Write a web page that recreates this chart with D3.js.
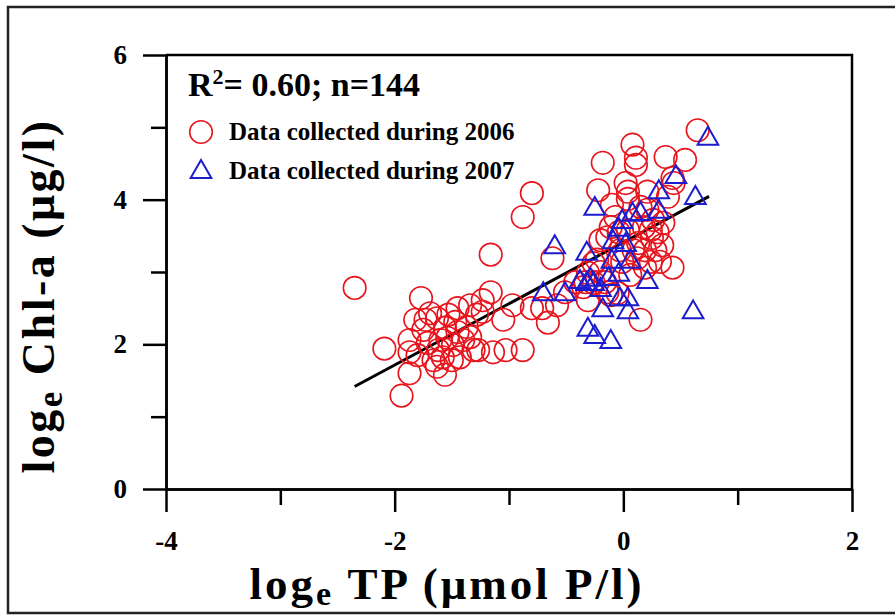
<!DOCTYPE html>
<html>
<head>
<meta charset="utf-8">
<script src="https://cdn.jsdelivr.net/npm/d3@7"></script>
<style>
  body { margin: 0; background: #fff; }
  svg text { font-family: "Liberation Serif", "Times New Roman", serif; font-weight: bold; }
</style>
</head>
<body>
<div id="chart"></div>
<script>
// loge TP vs loge Chl-a
let tp2006 = [-2.35, -2.09, -1.94, -1.87, -1.77, -1.87, -1.87, -1.80, -1.71, -1.69,
    -1.63, -1.53, -1.45, -1.34, -1.56, -1.45, -1.60, -1.49, -1.40, -1.66,
    -1.58, -1.50, -1.63, -1.56, -1.75, -1.43, -1.31, -1.37, -1.28, -1.23,
    -1.16, -1.23, -1.16, -1.05, -0.97, -1.27, -1.14, -1.03, -0.88, -0.80,
    -0.88, -0.62, -0.80, -0.71, -0.66, -0.58, -0.51, -0.42, -0.33, -1.34,
    -1.73, -1.47, -1.62, -1.82, -1.54,
    0.65, 0.08, 0.11, 0.11, -0.18, 0.37, 0.54, 0.43, 0.44, -0.22,
    0.02, 0.04, 0.04, 0.21, 0.39, 0.15, 0.21, 0.26, 0.24, 0.30,
    0.35, -0.07, -0.11, -0.14, -0.20, 0.13, 0.34, 0.04, 0.32, 0.24,
    0.43, 0.15, -0.26, -0.31, -0.20, -0.35, -0.26, -0.11, -0.05, -0.14,
    -0.23, 0.12, -0.04, 0.18, 0.25, -0.03, 0.19, 0.06, -0.10, -0.31,
    0.28, 0.09, -0.01, 0.19, -0.16];
let chl2006 = [2.78, 1.94, 1.29, 1.60, 2.64, 2.06, 1.89, 1.85, 2.02, 2.43,
    2.36, 2.41, 2.50, 2.54, 2.23, 2.17, 2.06, 1.99, 2.06, 1.78,
    1.82, 1.78, 1.69, 1.58, 2.20, 1.82, 1.92, 2.24, 2.41, 2.61,
    2.72, 2.45, 3.24, 2.34, 2.54, 1.92, 1.89, 1.92, 1.92, 4.09,
    3.76, 3.19, 2.50, 2.50, 2.30, 2.54, 2.72, 2.86, 2.86, 2.10,
    2.34, 2.31, 1.92, 2.34, 2.09,
    4.96, 4.76, 4.58, 4.48, 4.51, 4.59, 4.55, 4.30, 4.23, 4.13,
    4.23, 4.11, 4.01, 4.11, 4.04, 3.90, 3.86, 3.72, 3.58, 3.55,
    3.68, 3.76, 3.62, 3.48, 3.44, 3.40, 3.37, 3.58, 3.14, 3.14,
    3.06, 2.34, 3.12, 2.99, 3.00, 2.79, 2.85, 2.68, 2.71, 2.72,
    3.17, 3.19, 3.55, 3.62, 3.47, 3.30, 3.30, 2.96, 3.93, 2.61,
    3.30, 3.30, 3.14, 3.06, 2.86];

let tp2007 = [0.74, 0.46, 0.31, 0.63, -0.25, 0.31, 0.08, 0.15, -0.01, -0.04,
    -0.09, 0.02, -0.60, -0.32, -0.10, 0.06, -0.70, -0.51, -0.38, -0.32,
    -0.26, -0.20, -0.13, -0.04, 0.21, -0.03, 0.04, -0.18, 0.04, 0.61,
    -0.31, -0.25, -0.11, -0.29];
let chl2007 = [4.87, 4.34, 4.13, 4.05, 3.90, 3.86, 3.82, 3.83, 3.72, 3.61,
    3.44, 3.40, 3.37, 3.28, 3.17, 3.17, 2.72, 2.72, 2.89, 2.86,
    2.86, 2.78, 2.93, 2.99, 2.89, 2.65, 2.65, 2.50, 2.47, 2.47,
    2.23, 2.13, 2.06, 2.92];

// regression line
let fitRange = [-2.35, 0.75];
let fitCoef = [3.41, 0.848];   // intercept, slope

let xTicks = [-4, -2, 0, 2];
let xMinor = [-3, -1, 1];
let yTicks = [0, 2, 4, 6];
let yMinor = [1, 3, 5];

let width = 895, height = 615;
let margin = {top: 55, right: 43, bottom: 126, left: 166};

let svg = d3.select("#chart").append("svg")
    .attr("width", width)
    .attr("height", height);

// outer frame
svg.append("rect")
    .attr("x", 8).attr("y", 7)
    .attr("width", 1000).attr("height", 606)
    .attr("fill", "none")
    .attr("stroke", "#222")
    .attr("stroke-width", 2.5);

let x = d3.scaleLinear().domain([-4, 2]).range([margin.left, width - margin.right]);
let y = d3.scaleLinear().domain([0, 6]).range([height - margin.bottom, margin.top]);

// plot box top and right
svg.append("path")
    .attr("d", `M${x(-4)},${y(6)}H${x(2)}V${y(0)}`)
    .attr("fill", "none")
    .attr("stroke", "#000")
    .attr("stroke-width", 2.5);

// axes (plain hyphen minus like the original)
let fmt = d => String(d);
let xAxis = svg.append("g")
    .attr("transform", `translate(0,${y(0)})`)
    .call(d3.axisBottom(x).tickValues(xTicks).tickSize(23).tickSizeOuter(0).tickPadding(26).tickFormat(fmt));
svg.append("g")
    .attr("transform", `translate(0,${y(0)})`)
    .call(d3.axisBottom(x).tickValues(xMinor).tickSize(16).tickSizeOuter(0).tickFormat(""));

let yAxis = svg.append("g")
    .attr("transform", `translate(${x(-4)},0)`)
    .call(d3.axisLeft(y).tickValues(yTicks).tickSize(23).tickSizeOuter(0).tickPadding(16).tickFormat(fmt));
svg.append("g")
    .attr("transform", `translate(${x(-4)},0)`)
    .call(d3.axisLeft(y).tickValues(yMinor).tickSize(15).tickSizeOuter(0).tickFormat(""));

svg.selectAll(".domain, .tick line")
    .attr("stroke", "#000")
    .attr("stroke-width", 2.5);
svg.selectAll(".tick text")
    .attr("fill", "#000")
    .style("font-size", "27px")
    .style("font-family", "'Liberation Serif', serif")
    .style("font-weight", "bold");
xAxis.selectAll(".tick text").attr("dy", "0.45em");

// regression line
svg.append("line")
    .attr("x1", x(fitRange[0]))
    .attr("y1", y(fitCoef[0] + fitCoef[1] * fitRange[0]))
    .attr("x2", x(fitRange[1]))
    .attr("y2", y(fitCoef[0] + fitCoef[1] * fitRange[1]))
    .attr("stroke", "#000")
    .attr("stroke-width", 3);

let red = "#e8141c", blue = "#1c1ccf";
let tri = d3.symbol().type(d3.symbolTriangle).size(185);

// 2006 circles
svg.append("g").selectAll("circle")
    .data(d3.range(tp2006.length))
    .enter().append("circle")
    .attr("cx", i => x(tp2006[i]))
    .attr("cy", i => y(chl2006[i]))
    .attr("r", 11.3)
    .attr("fill", "none")
    .attr("stroke", red)
    .attr("stroke-width", 1.6);

// 2007 triangles
svg.append("g").selectAll("path")
    .data(d3.range(tp2007.length))
    .enter().append("path")
    .attr("d", tri)
    .attr("transform", i => `translate(${x(tp2007[i])},${y(chl2007[i]) + 2})`)
    .attr("fill", "none")
    .attr("stroke", blue)
    .attr("stroke-width", 2);

// annotation + legend
let note = svg.append("text")
    .attr("x", 188).attr("y", 96)
    .style("font-size", "34px");
note.append("tspan").text("R");
note.append("tspan").text("2").attr("dy", -12).style("font-size", "22px");
note.append("tspan").text("= 0.60; n=144").attr("dy", 12);

svg.append("circle")
    .attr("cx", 201).attr("cy", 132).attr("r", 11.3)
    .attr("fill", "none").attr("stroke", red).attr("stroke-width", 1.6);
svg.append("text")
    .attr("x", 229).attr("y", 140)
    .style("font-size", "25px")
    .text("Data collected during 2006");

svg.append("path")
    .attr("d", tri)
    .attr("transform", "translate(201,172)")
    .attr("fill", "none").attr("stroke", blue).attr("stroke-width", 2);
svg.append("text")
    .attr("x", 229).attr("y", 179)
    .style("font-size", "25px")
    .text("Data collected during 2007");

// axis titles
let xt = svg.append("text")
    .attr("x", 447)
    .attr("y", 599)
    .attr("text-anchor", "middle")
    .style("font-size", "45px")
    .style("letter-spacing", "3px");
xt.append("tspan").text("log");
xt.append("tspan").text("e").attr("dy", 6).style("font-size", "34px");
xt.append("tspan").text(" TP (μmol P/l)").attr("dy", -6);

let yt = svg.append("text")
    .attr("transform", `translate(54,296) rotate(-90)`)
    .attr("text-anchor", "middle")
    .style("font-size", "46px")
    .style("letter-spacing", "2.5px");
yt.append("tspan").text("log");
yt.append("tspan").text("e").attr("dy", 8).style("font-size", "35px");
yt.append("tspan").text(" Chl-a (μg/l)").attr("dy", -8);
</script>
</body>
</html>
